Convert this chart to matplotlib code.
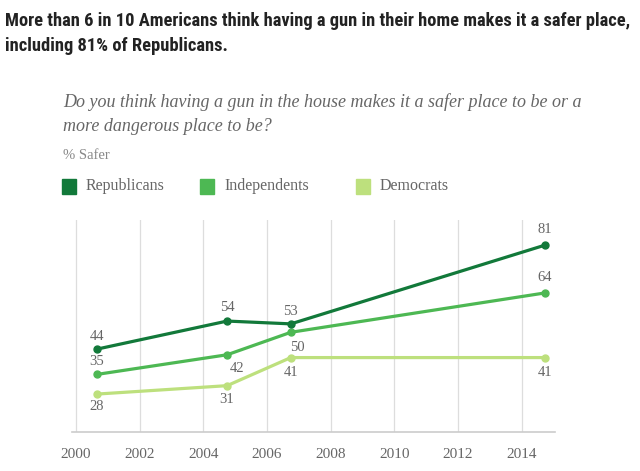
import matplotlib.pyplot as plt
from matplotlib.patches import Rectangle

years = [2000.66, 2004.75, 2006.75, 2014.72]
rep = [44, 54, 53, 81]
ind = [35, 42, 50, 64]
dem = [28, 31, 41, 41]
xticks = [2000, 2002, 2004, 2006, 2008, 2010, 2012, 2014]

c_rep = '#12793a'
c_ind = '#4db853'
c_dem = '#bde07d'
gray = '#666666'
serif = ['Liberation Serif', 'DejaVu Serif']

fig = plt.figure(figsize=(6.4, 4.71), dpi=100)
ax = fig.add_axes([0.1125, 0.0834, 0.755, 0.4496])

for vals, col in [(dem, c_dem), (ind, c_ind), (rep, c_rep)]:
    ax.plot(years, vals, '-o', color=col, lw=2.3, ms=5, zorder=3,
            solid_capstyle='round')

# (series, index, dx, dy) offsets in points for value labels
labels = [
    (rep, 0, 0, 9), (rep, 1, 0, 10), (rep, 2, 0, 9), (rep, 3, 0, 11),
    (ind, 0, 0, 9), (ind, 1, 7, -10), (ind, 3, 0, 11),
    (dem, 0, 0, -9), (dem, 1, 0, -10), (dem, 2, 5, 7), (dem, 2, 0, -11),
    (dem, 3, 0, -11),
]
for series, i, dx, dy in labels:
    txt = str(ind[2]) if (series is dem and i == 2 and dy > 0) else str(series[i])
    ax.annotate(txt, (years[i], series[i]), xytext=(dx, dy),
                textcoords='offset points', ha='center', va='center',
                fontsize=10.5, color=gray, family=serif)

ax.set_xlim(1999.88, 2015.05)
ax.set_ylim(14.6, 90)
ax.set_xticks(xticks)
ax.set_xticklabels([str(t) for t in xticks], family=serif, fontsize=11,
                   color=gray)
ax.tick_params(axis='x', length=0, pad=12)
ax.set_yticks([])
ax.grid(axis='x', color='#dddddd', lw=0.9)
for s in ['top', 'right', 'left']:
    ax.spines[s].set_visible(False)
ax.spines['bottom'].set_color('#cccccc')
ax.spines['bottom'].set_linewidth(1.2)

fig.text(0.008, 0.929, 'More than 6 in 10 Americans think having a gun in their home makes it a safer place,\nincluding 81% of Republicans.',
         ha='left', va='center', fontsize=13.3, fontweight='bold',
         color='#222222', linespacing=1.45,
         family=['Roboto Condensed', 'Liberation Sans Narrow', 'Roboto', 'DejaVu Sans'])

fig.text(0.098, 0.758, 'Do you think having a gun in the house makes it a safer place to be or a\nmore dangerous place to be?',
         ha='left', va='center', fontsize=13, style='italic', color=gray,
         linespacing=1.55, family=serif)
fig.text(0.098, 0.669, '% Safer', ha='left', va='center', fontsize=10.5,
         color='#888888', family=serif)

for x0, col, name in [(62, c_rep, 'Republicans'), (200, c_ind, 'Independents'),
                      (356, c_dem, 'Democrats')]:
    fig.patches.append(Rectangle((x0 / 640, 1 - 194 / 471), 14 / 640, 15 / 471,
                                 transform=fig.transFigure, color=col))
    fig.text((x0 + 24) / 640, 1 - 186 / 471, name, ha='left', va='center',
             fontsize=11.5, color=gray, family=serif)

fig.savefig('out.png', dpi=100)
